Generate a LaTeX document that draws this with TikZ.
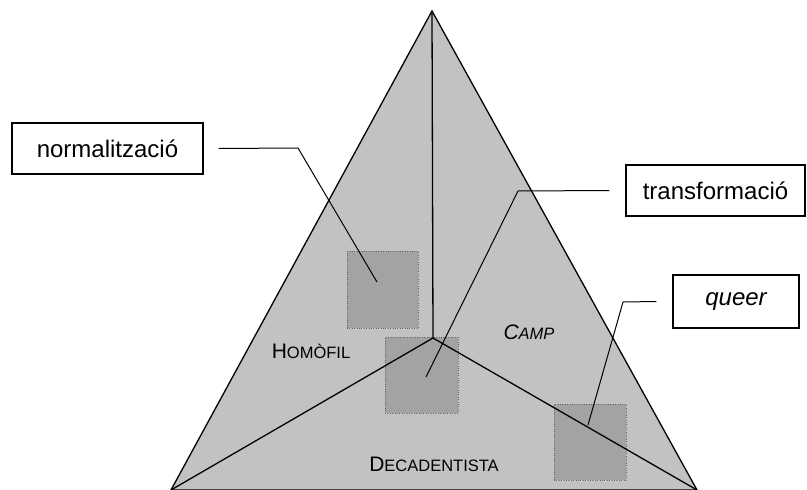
\documentclass[tikz,border=0pt]{standalone}
\usepackage{fontspec}
\setmainfont{Liberation Sans}
\definecolor{trianglegray}{gray}{0.76}
\definecolor{patchgray}{gray}{0.64}
\newcommand{\fakesc}[2]{{\fontsize{21}{24}\selectfont #1}{\fontsize{16.5}{20}\selectfont #2}}

\begin{document}
\begin{tikzpicture}[x=1pt, y=-1pt,
    labelbox/.style={draw, line width=1.3pt, fill=white, inner sep=0pt,
      minimum height=51pt, font=\fontsize{24}{28}\selectfont},
    patch/.style={draw=black!60, dotted, fill=patchgray, inner sep=0pt},
    edge/.style={line width=1.3pt},
    leader/.style={line width=1pt}]
        \useasboundingbox (0,0) rectangle (807,490);

        % corners of the triangle and its centre
        \coordinate (top) at (432,11);
        \coordinate (left) at (171,490);
        \coordinate (right) at (697,490);
        \coordinate (mid) at (433,338);

        \fill[trianglegray] (top) -- (right) -- (left) -- cycle;

        % shaded patches
        \node[patch, minimum width=71pt, minimum height=77pt] (normpatch) at (382.5,289.5) {};
        \node[patch, minimum width=73pt, minimum height=76pt] (transpatch) at (421.5,375) {};
        \node[patch, minimum width=72pt, minimum height=76pt] (queerpatch) at (590,442) {};

        \draw[edge] (top) -- (right) -- (left) -- cycle;
        \draw[edge] (top) -- (mid);
        \draw[edge] (mid) -- (left);
        \draw[edge] (mid) -- (right);

        % areas
        \node (homofil) at (311,351) {\fakesc{H}{OMÒFIL}};
        \node (camp) at (529,332) {\itshape\fakesc{C}{AMP}};
        \node (decad) at (434,464) {\fakesc{D}{ECADENTISTA}};

        % labels
        \node[labelbox, minimum width=191pt] (norm) at (107.5,148.5) {normalització};
        \node[labelbox, minimum width=179pt] (trans) at (715.5,190.5) {transformació};
        \node[labelbox, minimum width=126pt, minimum height=53pt] (queer) at (736,301.5) {\itshape queer};

        \coordinate (normbend) at (298,148);
        \coordinate (normend) at (377,282);
        \coordinate (transbend) at (518,191);
        \coordinate (transend) at (426,377);
        \coordinate (queerbend) at (623,302);
        \coordinate (queerend) at (588,425);

        \draw[leader] ([xshift=15pt]norm.east) -- (normbend) -- (normend);
        \draw[leader] ([xshift=-16pt]trans.west) -- (transbend) -- (transend);
        \draw[leader] ([xshift=-16pt]queer.west) -- (queerbend) -- (queerend);
      \end{tikzpicture}
\end{document}
